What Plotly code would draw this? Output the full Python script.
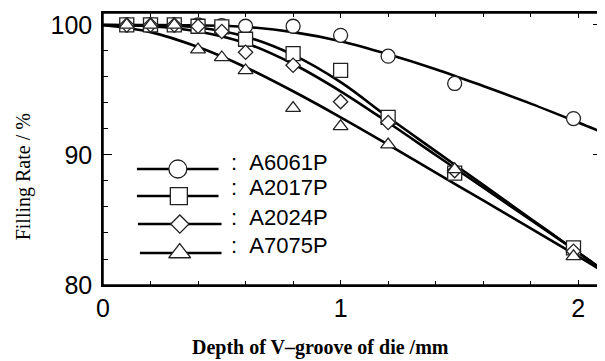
import plotly.graph_objects as go

# ---------------- data ----------------
depth = [0.1, 0.2, 0.3, 0.4, 0.5, 0.6, 0.8, 1.0, 1.2, 1.48, 1.98]
a6061p = [100, 100, 100, 100, 99.95, 99.9, 99.9, 99.2, 97.6, 95.5, 92.8]
a2017p = [100, 100, 100, 99.9, 99.85, 98.9, 97.8, 96.5, 92.9, 88.6, 82.85]
a2024p = [100, 100, 100, 99.9, 99.5, 97.9, 96.9, 94.1, 92.5, 88.8, 82.6]
a7075p = [100, 100, 100, 98.1, 97.5, 96.5, 93.6, 92.2, 90.8, 88.9, 82.2]

# fitted curves
fit_x = [0, 0.2, 0.4, 0.6, 0.8, 1.0, 1.2, 1.4, 1.6, 1.8, 2.0, 2.1]
fit_a6061p = [100, 100, 99.97, 99.85, 99.45, 98.75, 97.75, 96.6, 95.3, 93.95, 92.5, 91.75]
fit_a2017p = [100, 99.97, 99.8, 99.1, 97.7, 95.6, 92.9, 90.3, 87.7, 85.1, 82.5, 81.2]
fit_a2024p = [100, 99.9, 99.5, 98.6, 97.0, 94.9, 92.5, 90.0, 87.5, 85.0, 82.5, 81.2]
fit_a7075p = [100, 99.45, 98.3, 96.75, 94.9, 92.9, 90.8, 88.65, 86.5, 84.35, 82.2, 81.1]

names = ["A6061P", "A2017P", "A2024P", "A7075P"]
symbols = ["circle", "square", "diamond", "triangle-up"]
x_ticks = [0, 1, 2]
y_ticks = [80, 90, 100]

series = [a6061p, a2017p, a2024p, a7075p]
fits = [fit_a6061p, fit_a2017p, fit_a2024p, fit_a7075p]

# ---------------- styling / layout ----------------
X_RANGE = [0, 2.1]
Y_RANGE = [80, 100.92]
data_sizes = [14, 14, 11, 13]
legend_sizes = [18, 17, 14, 19]
# legend layout, in fractions of the plot area
leg_y = [0.4265, 0.327, 0.224, 0.1176]
leg_x0 = [0.068, 0.068, 0.070, 0.074]
leg_x1 = [0.2315, 0.2315, 0.2375, 0.2375]
leg_mx = [0.150, 0.152, 0.154, 0.1537]
leg_text_x = 0.2535
leg_text_y = [0.449, 0.357, 0.250, 0.147]


def fx(f):
    return X_RANGE[0] + f * (X_RANGE[1] - X_RANGE[0])


def fy(f):
    return Y_RANGE[0] + f * (Y_RANGE[1] - Y_RANGE[0])


fig = go.Figure()

for f in fits:
    fig.add_trace(go.Scatter(x=fit_x, y=f, mode="lines",
                             line=dict(color="black", width=2.6, shape="spline", smoothing=1.0),
                             showlegend=False, hoverinfo="skip"))

for name, sym, s, sz in zip(names, symbols, series, data_sizes):
    fig.add_trace(go.Scatter(x=depth, y=s, mode="markers", name=name, showlegend=False,
                             marker=dict(symbol=sym, size=sz, color="white",
                                         line=dict(color="#222", width=1.3))))

# custom legend (long line with the marker in its middle)
for i, (name, sym, sz) in enumerate(zip(names, symbols, legend_sizes)):
    fig.add_trace(go.Scatter(x=[fx(leg_x0[i]), fx(leg_x1[i])], y=[fy(leg_y[i]), fy(leg_y[i])], mode="lines",
                             line=dict(color="black", width=2.6), showlegend=False, hoverinfo="skip"))
    fig.add_trace(go.Scatter(x=[fx(leg_mx[i])], y=[fy(leg_y[i])], mode="markers",
                             showlegend=False, hoverinfo="skip",
                             marker=dict(symbol=sym, size=sz, color="white",
                                         line=dict(color="#222", width=1.3))))
    fig.add_annotation(x=leg_text_x, y=leg_text_y[i], xref="x domain", yref="y domain",
                       xanchor="left", yanchor="middle",
                       text=":\u00a0\u00a0" + name, showarrow=False,
                       font=dict(family="Liberation Sans, Arial", size=22, color="black"))

axis_common = dict(showline=True, linecolor="black", linewidth=1.5, mirror="allticks", ticks="inside",
                   showgrid=False, zeroline=False, tickcolor="black", tickwidth=1.3,
                   tickfont=dict(family="Liberation Sans, Arial", size=25, color="black"))

# the page body has an 8px margin, so the figure is sized to fill the window exactly
W, H = 597, 353
l, r, t, b = 95, 1, 5, 76
OFF = 8

fig.update_layout(
    width=W, height=H,
    margin=dict(l=l, r=r, t=t, b=b),
    plot_bgcolor="white", paper_bgcolor="white",
    xaxis=dict(range=X_RANGE, tickvals=x_ticks, ticklen=5,
               minor=dict(dtick=0.2, ticks="inside", ticklen=4, tickcolor="black", tickwidth=1.3),
               ticklabelstandoff=0, **axis_common),
    yaxis=dict(range=Y_RANGE, tickvals=y_ticks, ticklen=9,
               minor=dict(dtick=2, ticks="inside", ticklen=5, tickcolor="black", tickwidth=1.3),
               ticklabelstandoff=4, **axis_common),
    showlegend=False,
)

# frame around the plot area
fig.add_shape(type="rect", xref="x domain", yref="y domain", x0=0, x1=1, y0=0, y1=1,
              line=dict(color="black", width=1.5), layer="above")

pw, ph = W - l - r, H - t - b


def px_to_paper(px, py):
    return (px - OFF - l) / pw, (H - b - (py - OFF)) / ph


xt_x, xt_y = px_to_paper(321, 347)
yt_x, yt_y = px_to_paper(23, 177)
fig.add_annotation(x=xt_x, y=xt_y, xref="paper", yref="paper", xanchor="center", yanchor="middle",
                   text="<b>Depth of V\u2013groove of die /mm</b>", showarrow=False,
                   font=dict(family="Liberation Serif, Times New Roman", size=20, color="black"))
fig.add_annotation(x=yt_x, y=yt_y, xref="paper", yref="paper", xanchor="center", yanchor="middle",
                   text="Filling Rate / %", textangle=-90, showarrow=False,
                   font=dict(family="Liberation Serif, Times New Roman", size=20, color="black"))

fig.write_html("out.html")
